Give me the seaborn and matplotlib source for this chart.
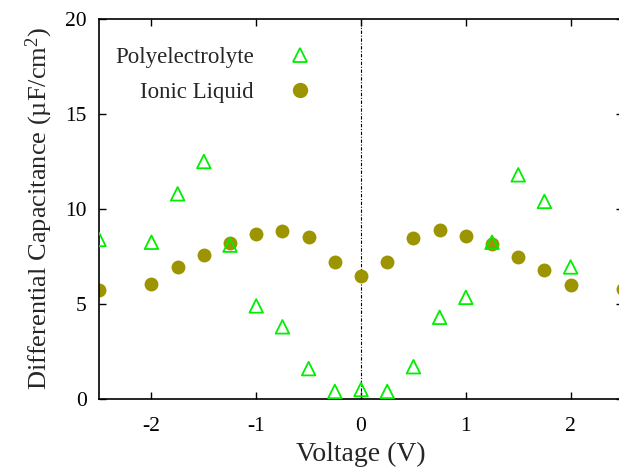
import matplotlib
matplotlib.use("Agg")
import matplotlib.pyplot as plt
from matplotlib.lines import Line2D
import seaborn as sns
import pandas as pd

# ---- data ----
poly_v = [-2.5, -2.0, -1.75, -1.5, -1.25, -1.0, -0.75, -0.5, -0.25, 0.0,
          0.25, 0.5, 0.75, 1.0, 1.25, 1.5, 1.75, 2.0]
poly_c = [8.4, 8.25, 10.8, 12.5, 8.1, 4.9, 3.8, 1.6, 0.4, 0.5,
          0.4, 1.7, 4.3, 5.35, 8.25, 11.8, 10.4, 6.95]
il_v = [-2.5, -2.0, -1.75, -1.5, -1.25, -1.0, -0.75, -0.5, -0.25, 0.0,
        0.25, 0.5, 0.75, 1.0, 1.25, 1.5, 1.75, 2.0, 2.5]
il_c = [5.74, 6.05, 6.95, 7.58, 8.2, 8.68, 8.85, 8.53, 7.2, 6.5,
        7.2, 8.47, 8.9, 8.57, 8.16, 7.47, 6.79, 6.0, 5.78]
x_ticks = [-2, -1, 0, 1, 2]
y_ticks = [0, 5, 10, 15, 20]

sns.set_style("ticks")
plt.rcParams['font.family'] = ['Liberation Serif', 'DejaVu Serif']
plt.rcParams['mathtext.fontset'] = 'custom'
plt.rcParams['mathtext.rm'] = 'Liberation Serif'
plt.rcParams['mathtext.it'] = 'Liberation Serif:italic'

fig = plt.figure(figsize=(6.19, 4.68), dpi=100)
ax = fig.add_axes([0.16, 0.1474, 0.8465, 0.812])

green = '#00ee00'
olive = '#9c9400'

ax.axvline(0, color='black', lw=0.8, ls=(0, (3, 1.5, 1, 1.5)), zorder=1)

df_p = pd.DataFrame({'V': poly_v, 'C': poly_c})
df_i = pd.DataFrame({'V': il_v, 'C': il_c})

sns.scatterplot(data=df_p, x='V', y='C', marker='^', s=95, ax=ax,
                legend=False, zorder=3)
coll_p = ax.collections[-1]
coll_p.set_facecolor('none')
coll_p.set_edgecolor(green)
coll_p.set_linewidth(1.3)

sns.scatterplot(data=df_i, x='V', y='C', marker='o', s=100, ax=ax,
                legend=False, zorder=2)
coll_i = ax.collections[-1]
coll_i.set_facecolor(olive)
coll_i.set_edgecolor(olive)
coll_i.set_linewidth(0)

ax.set_xlim(-2.5, 2.5)
ax.set_ylim(0, 20)
ax.set_xticks(x_ticks)
ax.set_xticklabels([str(t) for t in x_ticks])
ax.set_yticks(y_ticks)
ax.tick_params(direction='in', top=True, right=True, length=5, width=1,
               labelsize=15.5, colors='black')
ax.tick_params(axis='x', pad=13)
ax.tick_params(axis='y', pad=9)
for sp in ax.spines.values():
    sp.set_linewidth(1.2)
    sp.set_color('black')
    sp.set_visible(True)

ax.set_xlabel('Voltage (V)', fontsize=20, labelpad=4)
ax.set_ylabel('Differential Capacitance (µF/cm$^2$)', fontsize=19, labelpad=7)

handles = [
    Line2D([], [], ls='none', marker='^', markersize=9.5, markerfacecolor='none',
           markeredgecolor=green, markeredgewidth=1.3),
    Line2D([], [], ls='none', marker='o', markersize=10, markerfacecolor=olive,
           markeredgecolor=olive),
]
leg = ax.legend(handles, ['Polyelectrolyte', 'Ionic Liquid'], markerfirst=False,
                frameon=False, loc='upper left', bbox_to_anchor=(0.0, 0.968),
                fontsize=16.5, handlelength=1.0, handletextpad=1.5,
                labelspacing=0.62, borderaxespad=0.3)
for t in leg.get_texts():
    t.set_ha('right')

fig.savefig('out.png', dpi=100)
